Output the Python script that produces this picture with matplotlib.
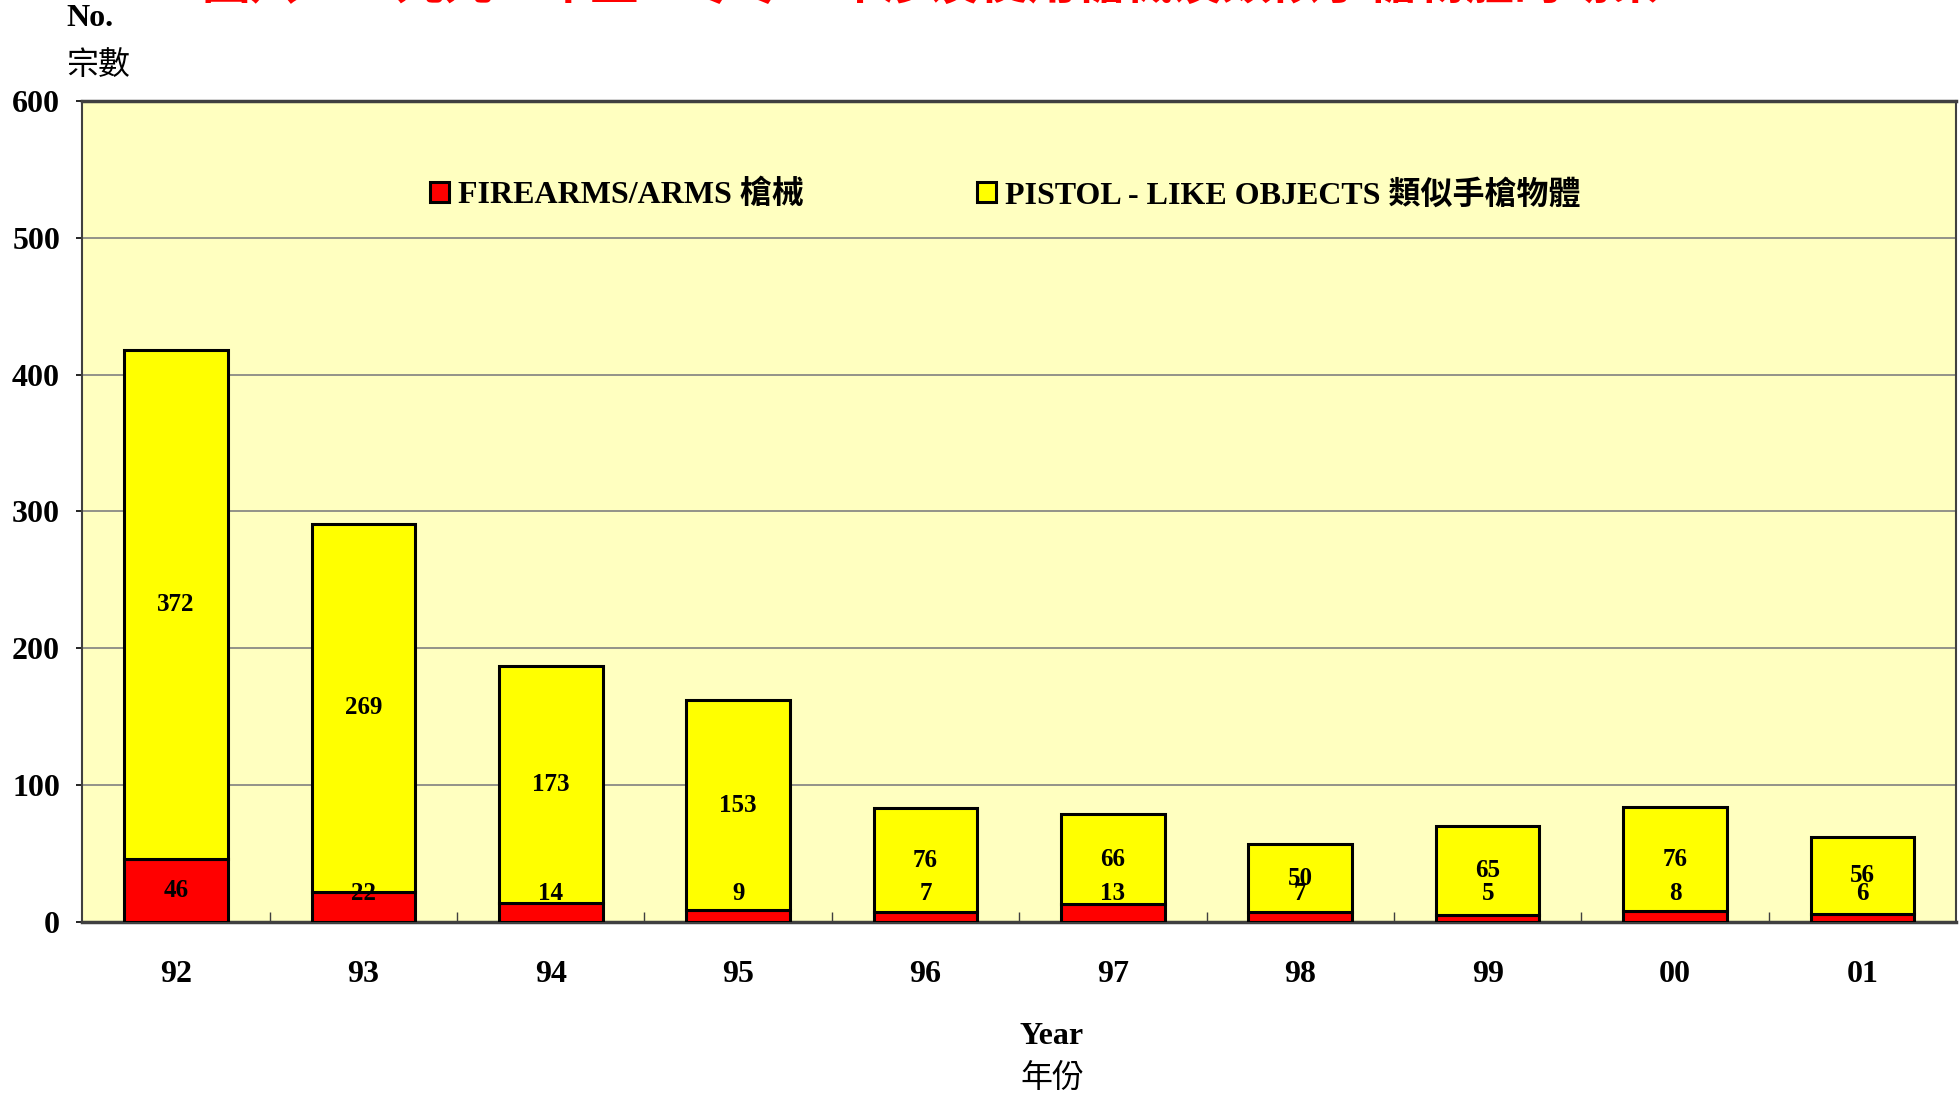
import matplotlib.pyplot as plt
import numpy as np

years = ['92', '93', '94', '95', '96', '97', '98', '99', '00', '01']
firearms = [46, 22, 14, 9, 7, 13, 7, 5, 8, 6]
pistol = [372, 269, 173, 153, 76, 66, 50, 65, 76, 56]

fam = ['Liberation Serif', 'Noto Sans CJK TC']
plt.rcParams['font.family'] = fam
plt.rcParams['font.weight'] = 'bold'

fig = plt.figure(figsize=(19.6, 10.97), dpi=100)
ax = fig.add_axes([0.042, 0.1595, 0.956, 0.7485])
ax.set_facecolor('#FFFFC0')

pos = np.arange(len(years))
width = 0.553
ax.bar(pos, firearms, width, color='#FF0000', edgecolor='black', linewidth=2.2,
       label='FIREARMS/ARMS 槍械', zorder=3)
ax.bar(pos, pistol, width, bottom=firearms, color='#FFFF00', edgecolor='black',
       linewidth=2.2, label='PISTOL - LIKE OBJECTS 類似手槍物體', zorder=3)

# value labels
for i in range(len(years)):
    ax.text(pos[i], max(firearms[i] / 2, 21), str(firearms[i]), ha='center', va='center',
            fontsize=18, fontweight='bold', zorder=4)
    ax.text(pos[i], firearms[i] + pistol[i] / 2, str(pistol[i]), ha='center', va='center',
            fontsize=18, fontweight='bold', zorder=4)

ax.set_xlim(-0.5, len(years) - 0.5)
ax.set_ylim(0, 600)
ax.set_yticks(range(0, 601, 100))
ax.yaxis.grid(True, color='#808080', linewidth=1.2, zorder=1)
ax.set_xticks(pos)
ax.set_xticklabels(years)
ax.set_xticks(pos[:-1] + 0.5, minor=True)
ax.tick_params(axis='x', which='major', length=0, pad=27, labelsize=23)
ax.tick_params(axis='x', which='minor', direction='in', length=7, width=1, color='#404040')
ax.tick_params(axis='y', length=4, width=1.2, pad=12, labelsize=23)
for lab in ax.get_xticklabels() + ax.get_yticklabels():
    lab.set_fontweight('bold')
for s in ax.spines.values():
    s.set_color('#404040')
    s.set_linewidth(1.5)
ax.spines['top'].set_linewidth(2.5)
ax.spines['bottom'].set_linewidth(2.5)

leg = ax.legend(loc='center', bbox_to_anchor=(0.4925, 0.8855), ncol=2, frameon=False,
                fontsize=23, handlelength=0.6, handleheight=0.6, handletextpad=0.28,
                columnspacing=5.4)

fig.text(0.034, 1 - 19 / 1097, 'No.', fontsize=23, fontweight='bold', va='center', ha='left')
fig.text(0.034, 1 - 66 / 1097, '宗數', fontsize=23, fontweight='normal', va='center', ha='left')
fig.text(1052 / 1960, 1 - 1037 / 1097, 'Year', fontsize=23, fontweight='bold', ha='center', va='center')
fig.text(1052 / 1960, 1 - 1079 / 1097, '年份', fontsize=23, fontweight='normal', ha='center', va='center')

fig.text(931 / 1960, 1 - 9 / 1097, '圖八：一九九二年至二零零一年涉及使用槍械及類似手槍物體的劫案',
         fontsize=35, color='#FF0000', fontweight='bold', ha='center', va='bottom')

fig.savefig('out.png', dpi=100)
